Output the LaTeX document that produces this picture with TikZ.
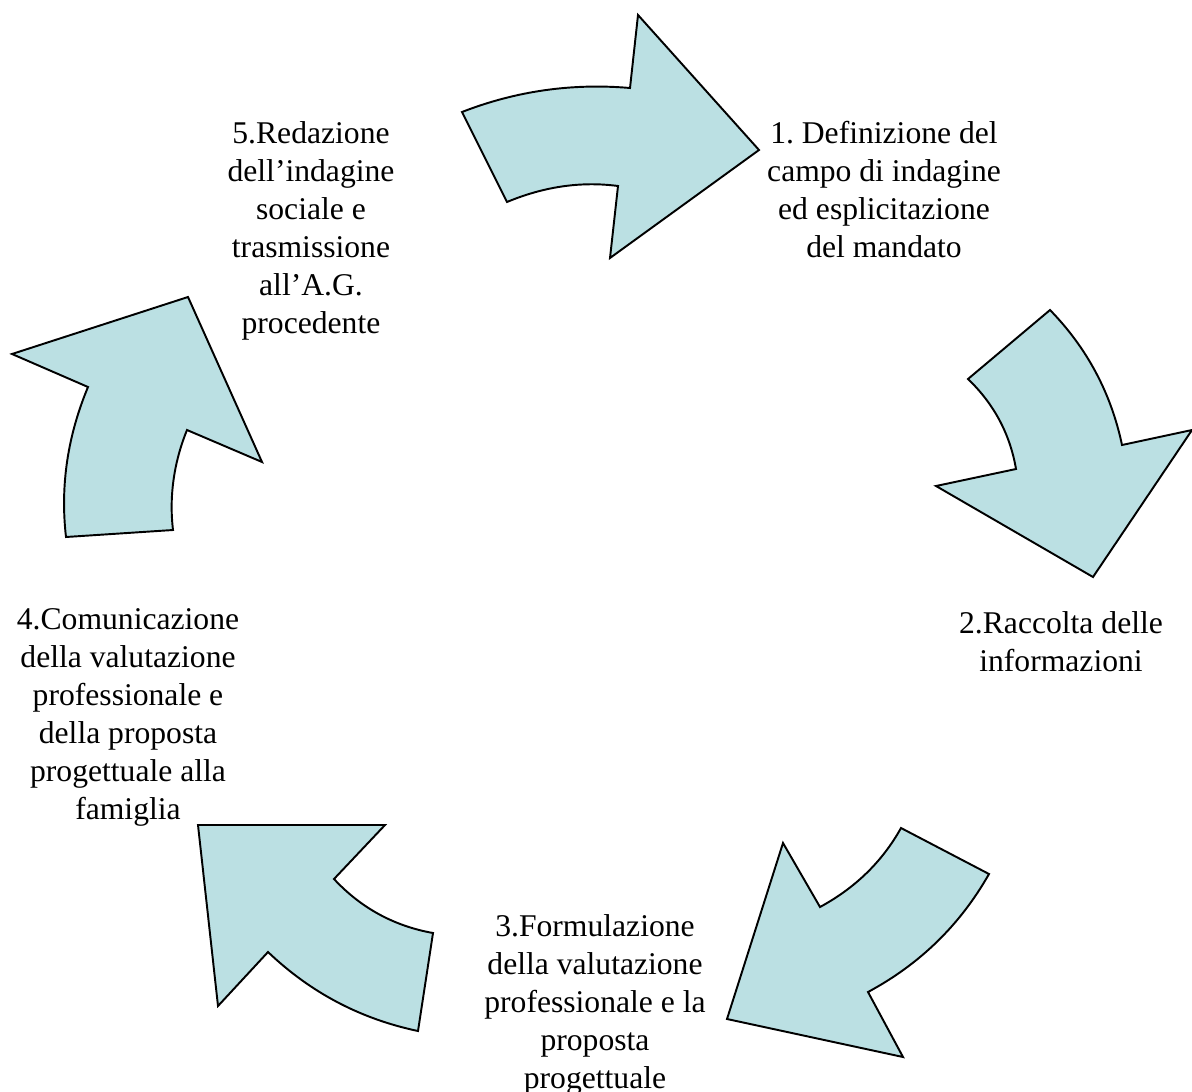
\documentclass[tikz,border=0pt]{standalone}
\usepackage{fontspec}
\setmainfont{Liberation Serif}
\frenchspacing
\definecolor{ciclo}{RGB}{187,224,227}
\begin{document}
\begin{tikzpicture}[x=0.02cm,y=-0.02cm,
  freccia/.style={fill=ciclo,draw=black,line width=1.1pt,line join=miter},
  fase/.style={anchor=north,align=center,inner sep=0pt,font=\fontsize{18}{21.6}\selectfont}]
\useasboundingbox (0,0) rectangle (1192,1091);
\clip (0,0) rectangle (1192,1091);
% frecce del ciclo
\draw[freccia] (462,112) .. controls (516,91) and (572,83) .. (630,88) -- (638,15) -- (759,150) -- (610,258)
  -- (618,186) .. controls (580,181) and (543,187) .. (507,202) -- cycle;
\draw[freccia] (1050,310) .. controls (1087,348) and (1111,393) .. (1122,445) -- (1192,430) -- (1093,577) -- (936,486)
  -- (1016,469) .. controls (1010,434) and (994,404) .. (968,379) -- cycle;
\draw[freccia] (989,874) .. controls (960,925) and (920,964) .. (868,992) -- (903,1057) -- (727,1019) -- (783,843)
  -- (820,907) .. controls (855,888) and (882,862) .. (901,828) -- cycle;
\draw[freccia] (418,1031) .. controls (361,1019) and (311,993) .. (268,952) -- (218,1006) -- (198,825) -- (385,825)
  -- (334,879) .. controls (361,908) and (394,926) .. (433,933) -- cycle;
\draw[freccia] (66,537) .. controls (60,485) and (68,435) .. (88,387) -- (12,354) -- (188,297) -- (262,462)
  -- (187,430) .. controls (174,462) and (169,496) .. (173,530) -- cycle;
% fasi
\node[fase] (fase1) at (884,121) {1. Definizione del\\campo di indagine\\ed esplicitazione\\del mandato};
\node[fase] (fase2) at (1061,611) {2.Raccolta delle\\informazioni};
\node[fase] (fase3) at (595,914) {3.Formulazione\\della valutazione\\professionale e la\\proposta\\progettuale};
\node[fase] (fase4) at (128,608) {4.Comunicazione\\della valutazione\\professionale e\\della proposta\\progettuale alla\\famiglia};
\node[fase] (fase5) at (311,121) {5.Redazione\\dell’indagine\\sociale e\\trasmissione\\all’A.G.\\procedente};
\end{tikzpicture}
\end{document}
